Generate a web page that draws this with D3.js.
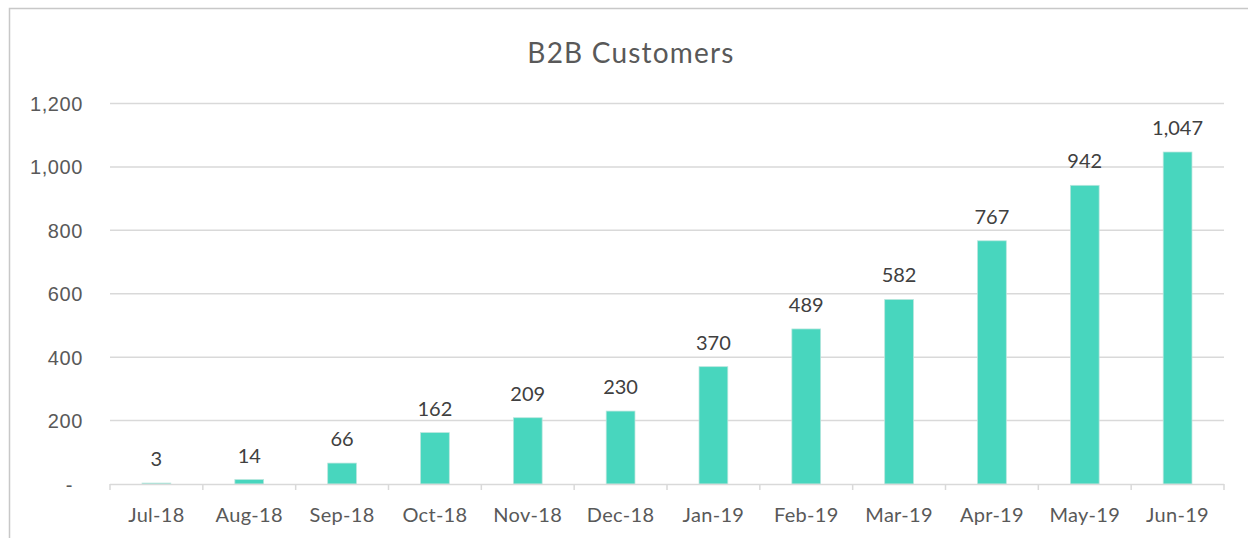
<!DOCTYPE html>
<html>
<head>
<meta charset="utf-8">
<script src="https://cdn.jsdelivr.net/npm/d3@7"></script>
<style>
  body { margin: 0; background: #fff; }
  svg { font-family: Lato, "Noto Sans", sans-serif; }
</style>
</head>
<body>
<svg id="chart" width="1248" height="538"></svg>
<script>
// data
const months = ["Jul-18","Aug-18","Sep-18","Oct-18","Nov-18","Dec-18","Jan-19","Feb-19","Mar-19","Apr-19","May-19","Jun-19"];
const customers = [3, 14, 66, 162, 209, 230, 370, 489, 582, 767, 942, 1047];
const yTicks = [0, 200, 400, 600, 800, 1000, 1200];

let chart = d3.select("#chart");
let textColor = "#595959";
let gridColor = "#d9d9d9";

// chart frame (top and left edges visible)
chart.append("path")
    .attr("d", "M9.5,538 L9.5,8.5 L1248,8.5")
    .attr("fill", "none")
    .attr("stroke", "#c8c8c8")
    .attr("stroke-width", 1.5);

// title
chart.append("text")
    .text("B2B Customers")
    .attr("x", 631)
    .attr("y", 63)
    .attr("text-anchor", "middle")
    .attr("fill", textColor)
    .style("font-size", "28px")
    .style("letter-spacing", "1.2px");

// scales
let x = d3.scaleBand()
    .domain(months)
    .range([110, 1224])
    .paddingInner(0.69)
    .paddingOuter(0.345);

let xb = d3.scaleBand().domain(months).range([110, 1224]);

let y = d3.scaleLinear()
    .domain([0, 1200])
    .range([484, 103.5]);

// gridlines
chart.append("g")
    .selectAll("line")
    .data(yTicks.filter(d => d > 0))
    .enter()
    .append("line")
    .attr("x1", 110)
    .attr("x2", 1224)
    .attr("y1", d => y(d))
    .attr("y2", d => y(d))
    .attr("stroke", gridColor)
    .attr("stroke-width", 1.5);

// y axis labels
let yAxis = d3.axisLeft(y)
    .tickValues(yTicks)
    .tickSize(0)
    .tickPadding(0)
    .tickFormat(d => d === 0 ? "-" : d3.format(",")(d));
let yg = chart.append("g")
    .attr("transform", "translate(83,0)")
    .call(yAxis);
yg.select(".domain").remove();
yg.selectAll("text")
    .attr("fill", textColor)
    .style("font-size", "20px")
    .style("letter-spacing", "0.6px")
    .attr("dy", "0.35em");
yg.selectAll("text").filter(d => d === 0).attr("dx", "-10px");

// bars
chart.selectAll("rect.bar")
    .data(customers)
    .enter()
    .append("rect")
    .attr("class", "bar")
    .attr("x", (d, i) => x(months[i]))
    .attr("y", d => y(d))
    .attr("width", x.bandwidth())
    .attr("height", d => y(0) - y(d))
    .attr("fill", "#48d6be")
    .attr("stroke", "#b9e6dd")
    .attr("stroke-width", 0.75);

// x axis
let boundaries = months.map(m => xb(m)).concat([1224]);
chart.append("line")
    .attr("x1", 110).attr("x2", 1224)
    .attr("y1", 484.5).attr("y2", 484.5)
    .attr("stroke", gridColor)
    .attr("stroke-width", 1.5);
chart.append("g")
    .selectAll("line")
    .data(boundaries)
    .enter()
    .append("line")
    .attr("x1", d => d).attr("x2", d => d)
    .attr("y1", 484).attr("y2", 490)
    .attr("stroke", gridColor)
    .attr("stroke-width", 1.5);

chart.append("g")
    .selectAll("text")
    .data(months)
    .enter()
    .append("text")
    .text(d => d)
    .attr("x", d => xb(d) + xb.bandwidth() / 2)
    .attr("y", 522)
    .attr("text-anchor", "middle")
    .attr("fill", textColor)
    .style("font-size", "20px")
    .style("letter-spacing", "0.3px");

// data labels
chart.append("g")
    .selectAll("text")
    .data(customers)
    .enter()
    .append("text")
    .text(d => d3.format(",")(d))
    .attr("x", (d, i) => xb(months[i]) + xb.bandwidth() / 2)
    .attr("y", d => y(d) - 17)
    .attr("text-anchor", "middle")
    .attr("fill", "#404040")
    .style("font-size", "20px");
</script>
</body>
</html>
